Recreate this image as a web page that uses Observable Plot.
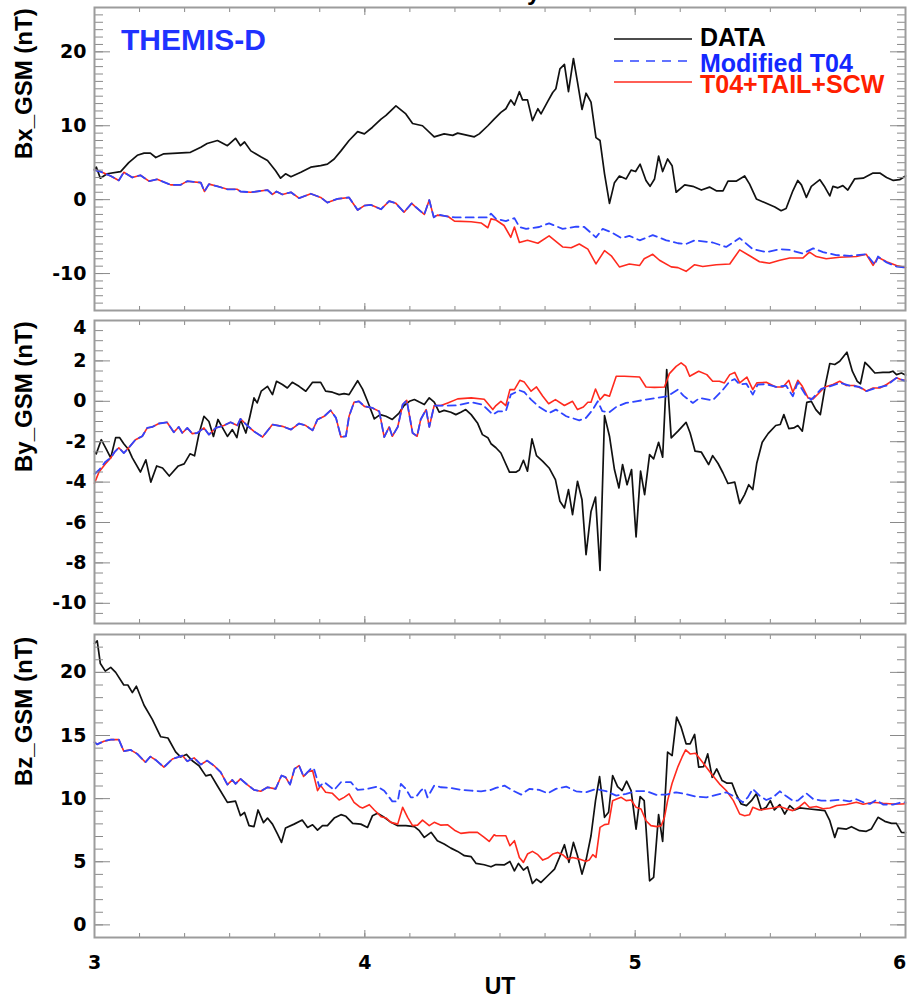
<!DOCTYPE html>
<html><head><meta charset="utf-8">
<script src="https://cdn.jsdelivr.net/npm/d3@7"></script>
<script src="https://cdn.jsdelivr.net/npm/@observablehq/plot@0.6"></script>
<style>
html,body{margin:0;padding:0;background:#fff;}
#wrap{position:relative;width:908px;height:1001px;overflow:hidden;}
#wrap svg{display:block;}
#overlay{position:absolute;left:0;top:0;}
</style></head><body><div id="wrap"></div>
<script>
// ---- data: [minutes after 03:00 UT, nT] ----
const bxData = [[0,4.1],[0.4,4.4],[1.3,2.9],[2.8,3.5],[5.8,3.8],[7.6,5.0],[9.5,6.0],[11,6.3],[12.4,6.3],[13.6,5.7],[15.4,6.2],[18.4,6.3],[21.3,6.4],[23.6,7.1],[25,7.6],[27.3,8.0],[29.5,7.3],[31.3,8.3],[32.4,7.3],[33.3,7.8],[34.7,6.6],[36.9,5.8],[38.4,5.3],[40.2,3.9],[41.3,2.9],[42.4,3.5],[43.6,3.1],[45.8,3.7],[48,4.4],[50.2,4.6],[51.7,4.8],[53.2,5.5],[54.7,6.6],[56.5,8.0],[58.4,9.2],[59.9,8.9],[61.7,9.8],[63.6,10.9],[64.7,11.4],[66.9,12.7],[69.1,11.6],[70.6,10.3],[72.8,10.0],[75.4,8.5],[77.6,8.9],[79.5,8.7],[80.6,9.0],[84.3,8.5],[85.4,8.9],[87.3,10.0],[88.7,10.9],[90.2,11.8],[91.3,12.3],[92.4,13.5],[93.2,12.8],[94.3,14.6],[95,13.5],[96.1,13.5],[97.2,10.7],[98.4,12.3],[99.1,11.6],[100.6,13.3],[101.7,14.5],[102.4,15.0],[103.3,17.7],[104.3,18.3],[105.2,14.6],[106.3,19.1],[107.2,15.9],[108.2,12.2],[109.1,14.4],[110.2,13.2],[111.3,8.4],[112.2,8.0],[113.2,3.5],[114.3,-0.5],[115.4,2.3],[116.5,3.2],[118,2.8],[119.1,4.0],[120.1,3.8],[121.1,4.8],[122.4,2.6],[123.3,1.8],[124.3,2.8],[125.2,5.9],[126.1,3.8],[127.2,5.5],[128.2,4.6],[129.1,1.0],[131,2.0],[132.8,1.8],[134.7,1.3],[136.5,1.7],[138,1.2],[139.5,1.2],[140.6,2.5],[142.4,2.5],[144.3,3.2],[145.4,2.1],[146.9,0.1],[149.1,-0.5],[151,-1.0],[152.4,-1.5],[153.5,-1.2],[155,1.2],[156.1,2.6],[156.9,2.0],[158,0.3],[159.1,1.8],[161,2.7],[162.1,1.7],[163.2,0.5],[163.9,1.8],[165,1.6],[166.1,1.9],[167.2,1.3],[168.7,2.8],[170.6,2.9],[172.8,3.6],[174.3,3.6],[175.8,3.0],[177.3,2.6],[178.7,2.7],[180,3.2]];
const bxT04 = [[0,4.0],[1.3,3.8],[3.6,3.2],[5.4,2.6],[6.5,3.7],[8.4,3.0],[10.2,3.3],[12.1,2.5],[13.9,2.75],[16.9,2.0],[19.1,2.0],[20.6,2.5],[23.6,2.3],[24.4,1.1],[25.4,2.1],[27.3,1.8],[29.5,1.4],[31.7,1.4],[32.4,1.1],[34.7,1.0],[38.4,1.3],[39.5,0.7],[40.4,1.1],[41.7,0.7],[43.6,1.0],[45.4,0.2],[48,0.8],[50.2,0.3],[51.7,-0.4],[53.9,0.1],[56.5,0.3],[58.4,-1.4],[59.9,-0.8],[61.3,-0.7],[63.6,-1.3],[65.4,-0.2],[66.9,-0.5],[68.7,-1.7],[70.4,-0.5],[71.3,-1.0],[73.2,-2.0],[74.3,-0.05],[75.3,-2.4],[76.1,-2.0],[78.4,-2.3],[80,-2.4],[84,-2.4],[87.3,-2.4],[88,-1.9],[89.1,-2.6],[91.3,-2.9],[93.2,-2.5],[94.3,-3.7],[95.8,-3.95],[98.7,-3.7],[100.9,-3.2],[103.9,-3.95],[106.9,-3.65],[108.7,-3.7],[111.3,-5.1],[112.8,-3.95],[114.7,-4.4],[116.9,-5.2],[118.7,-4.9],[121,-5.5],[123.9,-4.8],[126.9,-5.5],[129.5,-5.9],[131.3,-6.0],[133.2,-5.5],[137.2,-5.8],[140.2,-6.4],[143.2,-5.2],[146.1,-6.7],[149.1,-7.1],[152.1,-6.7],[154.3,-6.8],[157.2,-7.3],[159.5,-6.6],[161.7,-7.1],[164.6,-7.5],[167.6,-7.6],[171.3,-7.4],[173.2,-8.8],[173.9,-7.7],[175.8,-8.5],[178,-9.05],[180,-9.2]];
const bxSCW = [[0,4.0],[1.3,3.8],[3.6,3.2],[5.4,2.6],[6.5,3.7],[8.4,3.0],[10.2,3.3],[12.1,2.5],[13.9,2.75],[16.9,2.0],[19.1,2.0],[20.6,2.5],[23.6,2.3],[24.4,1.1],[25.4,2.1],[27.3,1.8],[29.5,1.4],[31.7,1.4],[32.4,1.1],[34.7,1.0],[38.4,1.3],[39.5,0.7],[40.4,1.1],[41.7,0.7],[43.6,1.0],[45.4,0.2],[48,0.8],[50.2,0.3],[51.7,-0.4],[53.9,0.1],[56.5,0.3],[58.4,-1.4],[59.9,-0.8],[61.3,-0.7],[63.6,-1.3],[65.4,-0.2],[66.9,-0.5],[68.7,-1.7],[70.4,-0.5],[71.3,-1.0],[73.2,-2.0],[74.3,-0.05],[75.3,-2.4],[76.1,-2.1],[78.4,-2.25],[79.9,-2.9],[83.6,-3.0],[85.8,-3.15],[87.3,-3.8],[88,-2.6],[89.1,-2.75],[90.9,-3.5],[92.4,-5.1],[93.2,-3.7],[94.3,-5.8],[96.1,-5.5],[98.4,-5.9],[100.9,-4.9],[103.9,-6.4],[105.8,-6.5],[107.6,-6.0],[109.5,-6.7],[111.3,-8.7],[113.2,-6.9],[114.7,-7.6],[116.5,-9.1],[118.7,-8.7],[121,-8.9],[122,-8.0],[123.9,-7.4],[125.4,-8.2],[128,-9.1],[129.5,-9.2],[131.3,-9.7],[133.2,-8.8],[135,-9.05],[138,-8.8],[141,-8.7],[143.2,-6.8],[145.4,-7.6],[147.6,-8.4],[149.8,-8.6],[152.1,-8.2],[154.3,-7.9],[157.2,-7.9],[158.7,-7.1],[160.2,-7.7],[162.4,-8.0],[165.4,-7.8],[169.1,-7.7],[171.3,-7.4],[172.8,-8.9],[173.9,-7.8],[175.8,-8.4],[178,-8.9],[180,-9.2]];

const byData = [[0,-2.5],[0.4,-2.6],[1.5,-1.9],[2.7,-2.4],[3.6,-2.8],[4.7,-1.8],[5.6,-1.8],[6.5,-2.1],[7.6,-2.4],[8.4,-2.8],[10.2,-3.5],[11.4,-2.9],[12.5,-4.0],[13.8,-3.2],[15.1,-3.3],[16.6,-3.7],[18.6,-3.2],[19.9,-3.1],[21.2,-2.6],[22.2,-2.7],[23.2,-1.6],[24.3,-0.74],[25.4,-1.0],[26.4,-1.74],[27.4,-0.9],[28.4,-1.3],[29.5,-1.74],[30.6,-1.4],[31.6,-1.8],[32.4,-0.9],[33.6,-1.57],[34.5,-0.74],[35.4,0.17],[36.1,-0.08],[37,0.5],[38.4,0.74],[39.5,0.33],[40.4,0.99],[41.7,0.83],[42.8,0.66],[43.9,0.94],[45.4,0.74],[46.9,0.5],[48.4,0.94],[50.2,0.94],[51.3,0.5],[52.8,0.45],[54.3,0.33],[55.4,0.38],[56.5,0.33],[58.4,1.02],[59.5,0.6],[60.6,0.0],[62.1,-0.87],[63.4,-0.66],[64.7,-0.74],[66.1,-0.9],[67.6,-0.58],[68.7,-0.21],[69.9,0.0],[71,0.09],[72.1,-0.04],[73.2,-0.16],[74.3,0.17],[75.4,-0.04],[76.5,-0.54],[77.6,-0.45],[79.1,-0.54],[80.2,-0.66],[81.3,-0.54],[82.4,-0.41],[83.6,-0.66],[85,-1.07],[86.1,-1.65],[87.3,-1.8],[88,-2.1],[89.1,-2.3],[90.2,-2.56],[92.1,-3.51],[93.5,-3.51],[94.3,-3.4],[95.2,-2.92],[96.1,-3.46],[97.1,-1.86],[98.1,-2.69],[99.5,-2.97],[100.9,-3.3],[102.3,-3.88],[103.3,-4.95],[104.3,-5.28],[105.2,-4.37],[106.1,-5.61],[107.2,-3.96],[108.2,-4.87],[109.1,-7.59],[110.2,-5.45],[111.2,-4.74],[112.2,-8.37],[113.2,-0.71],[114.3,-1.73],[115.4,-3.38],[116.4,-4.29],[117.2,-3.13],[118.2,-4.13],[119.2,-3.38],[120.2,-6.71],[121.2,-3.46],[122.1,-4.62],[123.2,-2.64],[124.1,-2.85],[125.2,-2.03],[126.1,-2.77],[127,1.57],[128,-1.81],[129.5,-1.48],[131.3,-1.04],[132.2,-1.57],[133.3,-2.47],[134.7,-2.52],[136.3,-3.13],[137.2,-2.69],[138.4,-3.08],[139.5,-3.55],[140.6,-4.07],[142.1,-4.0],[143.2,-5.06],[144.3,-4.62],[145.2,-4.13],[146.1,-4.37],[147,-3.05],[148.2,-2.03],[149.5,-1.6],[151.2,-1.2],[152.2,-1.15],[153,-0.66],[154.1,-1.35],[155.2,-1.32],[156.1,-1.2],[157.1,-1.48],[158.1,-0.05],[159.1,0.0],[160.1,-0.41],[161.1,-0.66],[162.3,0.91],[163.2,1.87],[164.3,1.82],[165.4,1.98],[167,2.43],[168.2,1.49],[169.3,0.99],[170,0.87],[171,1.93],[171.9,1.73],[173.2,1.4],[175,1.43],[176.4,1.43],[177.2,1.49],[178,1.32],[179.1,1.4],[180,1.3]];
const byT04 = [[0,-3.6],[1,-3.4],[2.4,-3.0],[3.6,-2.8],[4.5,-2.5],[5.4,-2.3],[6.5,-2.56],[7.6,-2.3],[9.1,-1.9],[10.6,-1.73],[11.7,-1.32],[12.8,-1.27],[14.3,-1.1],[16.1,-1.04],[17.6,-1.53],[18.7,-1.27],[19.5,-1.57],[20.6,-1.32],[21.7,-1.6],[22.8,-1.57],[24.3,-1.32],[25.4,-1.65],[26.9,-1.32],[28.7,-1.2],[30.2,-1.04],[31.7,-1.2],[32.4,-0.87],[33.9,-1.2],[35.4,-1.49],[37.3,-1.77],[39.5,-1.15],[41.7,-1.24],[43.6,-1.4],[45.4,-1.1],[46.9,-1.2],[48.4,-1.44],[49.5,-0.9],[51,-0.74],[52.4,-0.45],[53.6,-0.82],[54.7,-1.77],[55.8,-1.73],[56.5,-0.74],[57.6,-0.05],[58.7,0.0],[59.9,-0.25],[61.7,-0.33],[63.2,-0.5],[64.3,-1.77],[65.4,-1.27],[66.1,-1.73],[67.3,-1.27],[68.4,-0.16],[69.3,0.05],[70.6,-1.57],[71.6,-1.73],[72.4,-0.9],[73.6,-0.41],[74.3,-1.27],[75.4,-0.21],[76.9,-0.21],[78.4,-0.21],[80.6,-0.2],[83.6,-0.05],[86.1,-0.16],[88.4,-0.66],[89.5,-0.5],[91.3,-0.49],[92.4,0.33],[94.3,0.54],[95.4,0.45],[96.9,0.08],[98.7,-0.28],[100.9,-0.58],[102.4,-0.41],[104.7,-0.74],[107.6,-0.94],[109.1,-0.82],[110.6,-0.41],[111.7,0.0],[112.7,-0.49],[114.3,-0.54],[115.8,-0.28],[118,-0.08],[120.2,0.0],[122.4,0.08],[124.7,0.16],[127.2,0.25],[129.5,0.58],[130.7,0.28],[132.8,-0.08],[134.3,0.16],[137.2,0.05],[139.5,0.58],[141,0.99],[142.1,1.1],[143.2,0.83],[144.7,0.87],[146.1,0.33],[147.2,0.83],[149.1,0.85],[151.3,0.71],[153.5,0.78],[155,0.25],[156.1,0.94],[158,0.25],[159.1,0.08],[161.3,0.61],[163.2,0.74],[165.4,0.91],[167.6,0.78],[169.8,0.71],[171.3,0.5],[173.5,0.66],[175.8,0.78],[178,1.16],[179.5,1.04],[180,1.0]];
const bySCW = [[0,-4.05],[1,-3.5],[2.4,-3.1],[3.6,-2.8],[4.5,-2.5],[5.4,-2.3],[6.5,-2.56],[7.6,-2.3],[9.1,-1.9],[10.6,-1.73],[11.7,-1.32],[12.8,-1.27],[14.3,-1.1],[16.1,-1.04],[17.6,-1.53],[18.7,-1.27],[19.5,-1.57],[20.6,-1.32],[21.7,-1.6],[22.8,-1.57],[24.3,-1.32],[25.4,-1.65],[26.9,-1.32],[28.7,-1.2],[30.2,-1.04],[31.7,-1.2],[32.4,-0.87],[33.9,-1.2],[35.4,-1.49],[37.3,-1.77],[39.5,-1.15],[41.7,-1.24],[43.6,-1.4],[45.4,-1.1],[46.9,-1.2],[48.4,-1.44],[49.5,-0.9],[51,-0.74],[52.4,-0.45],[53.6,-0.82],[54.7,-1.77],[55.8,-1.73],[56.5,-0.74],[57.6,-0.05],[58.7,0.0],[59.9,-0.25],[61.7,-0.33],[63.2,-0.5],[64.3,-1.77],[65.4,-1.27],[66.1,-1.73],[67.3,-1.27],[68.4,-0.16],[69.3,0.05],[70.6,-1.57],[71.6,-1.73],[72.4,-0.9],[73.6,-0.41],[74.3,-1.27],[75.4,-0.21],[76.9,-0.21],[78.4,-0.08],[80.6,0.12],[83.6,0.17],[86.5,0.1],[88.4,-0.41],[89.1,-0.21],[90.2,0.0],[91.3,-0.21],[92.2,0.58],[93.2,0.58],[94.4,1.04],[95.4,0.95],[96.9,0.5],[98.1,0.71],[99.5,0.25],[100.8,-0.12],[102.3,0.08],[104.3,-0.21],[106.1,0.0],[107.2,-0.41],[108.5,-0.28],[109.5,-0.05],[110.2,-0.05],[111.2,0.61],[112.2,0.08],[113.2,0.33],[114.3,0.25],[115.8,1.24],[117.6,1.24],[121,1.2],[122.4,0.71],[124.3,0.69],[126.5,0.71],[127.6,1.37],[129.1,1.73],[130.2,1.9],[131.2,1.73],[132.1,1.24],[134.1,1.49],[135.9,1.32],[137.2,0.99],[138.7,0.99],[139.8,0.91],[141,1.32],[142.1,1.43],[143.2,0.91],[144.8,1.2],[146.1,0.58],[147,0.91],[149.1,0.94],[151.2,0.71],[152.8,0.71],[154.1,1.04],[155,0.45],[156.1,1.04],[157.1,0.74],[158.4,0.16],[159.5,0.12],[160.8,0.41],[162.1,0.71],[163.9,0.83],[165.4,0.99],[166.9,0.78],[168.7,0.78],[170.6,0.61],[171.3,0.5],[172.8,0.66],[174.3,0.66],[175.8,0.83],[178,1.16],[179.1,1.07],[180,1.05]];

const bzData = [[0,22.3],[0.6,22.5],[1.3,20.7],[2.4,20.1],[3.6,20.4],[4.7,20.0],[6.5,19.0],[7.4,19.0],[8.4,18.4],[9.3,18.9],[11,17.4],[12.8,16.3],[14.7,14.9],[16.3,14.8],[18,13.7],[19.1,13.3],[20.4,13.5],[21.7,13.0],[23.2,12.6],[24.7,11.8],[25.8,11.9],[27.3,11.0],[29.5,9.7],[31.3,9.8],[32.4,8.65],[33.3,8.9],[34.3,7.86],[35.4,7.78],[36.3,9.1],[37.5,8.1],[38.4,8.46],[39.5,7.98],[40.6,7.2],[41.5,6.53],[42.4,7.67],[44.3,7.98],[46.1,8.3],[47.3,7.72],[48.4,7.93],[49.5,7.5],[50.6,7.86],[51.7,7.86],[53.2,8.46],[54.7,8.73],[55.8,8.6],[57.3,8.04],[59.1,7.98],[60.6,7.72],[61.7,8.65],[62.8,8.84],[64.3,8.52],[65.8,8.12],[67.3,7.86],[69.1,7.86],[71,7.78],[72.1,7.46],[73.2,6.93],[74.7,7.33],[76.1,6.67],[77.6,6.4],[79.1,6.08],[80.6,5.82],[82.1,5.48],[83.6,5.4],[84.7,4.87],[86.5,4.76],[88,4.6],[89.1,4.78],[91,4.76],[92.2,5.02],[93.2,4.28],[94.1,4.87],[95.2,4.34],[96.1,4.6],[97.2,3.28],[98.1,3.62],[99.1,3.36],[100.6,3.89],[102.1,4.42],[103.2,5.35],[104.3,6.35],[105.3,4.95],[106.3,6.53],[107.2,5.47],[108.2,4.02],[109.1,5.13],[110.2,7.06],[111.2,9.84],[112.1,11.75],[113.2,8.52],[114.1,8.92],[115,11.83],[116.1,10.95],[117.1,10.64],[118.1,11.38],[119.1,10.64],[120.2,7.59],[121.1,10.16],[122,9.84],[123.2,3.49],[124.1,3.76],[125.2,8.73],[126.1,6.61],[127.2,13.68],[128.2,13.41],[129.2,16.45],[130.2,15.66],[131.3,14.34],[132.2,14.34],[133.2,15.08],[134.1,12.49],[135.2,12.54],[136.1,13.54],[137.1,11.69],[138.1,12.35],[139.3,11.43],[140.4,11.22],[141.5,11.22],[142.4,10.38],[143.5,9.58],[144.7,9.45],[145.8,9.84],[146.9,10.38],[148,9.11],[149.1,9.32],[150,9.84],[150.9,9.11],[152.1,9.53],[153.2,8.78],[154.3,9.45],[155.4,9.11],[156.5,9.26],[158.7,9.18],[160.6,9.11],[162.1,9.05],[163.2,8.25],[164.3,6.93],[165,7.67],[166.9,7.59],[168,7.78],[169.8,7.46],[171.3,7.41],[172.4,7.59],[173.9,8.52],[175.4,8.2],[176.9,8.04],[178,8.04],[179.1,7.33],[180,7.3]];
const bzT04 = [[0,14.47],[0.6,14.3],[2.1,14.55],[3.6,14.67],[5.4,14.67],[6.5,13.76],[8,13.86],[9.5,13.54],[11.3,12.88],[12.4,13.33],[13.6,13.06],[15.4,12.49],[17.3,13.14],[18.5,13.28],[19.5,13.41],[20.6,12.96],[22.1,13.23],[23.6,12.7],[25,13.01],[26.5,12.62],[28,12.1],[29.5,11.11],[30.6,11.48],[31.3,11.17],[32.4,11.56],[33.9,11.11],[35.4,10.69],[36.9,10.58],[38.4,10.9],[40.2,10.77],[41.5,11.83],[42.4,11.7],[43.4,11.11],[44.4,12.36],[45.4,12.62],[46.4,11.75],[47.3,12.1],[48.2,12.44],[48.7,12.36],[49.9,10.96],[51,11.3],[53.2,10.69],[54.7,11.3],[56.9,11.3],[58.4,10.69],[60.6,10.77],[62.8,10.96],[64.3,10.63],[66.1,9.78],[67.3,9.78],[68,11.17],[69.1,10.77],[70.2,10.1],[71.3,10.1],[72.4,10.63],[73.2,10.85],[73.9,10.1],[75.4,11.03],[76.9,10.9],[79.1,10.85],[81.3,10.69],[83.6,10.63],[85.8,10.58],[88,10.69],[89.1,10.85],[91,11.03],[92.8,10.64],[94.7,10.32],[96.5,10.77],[98.7,10.69],[100.6,10.42],[102.4,10.77],[104.7,10.95],[106.9,10.58],[109.1,10.5],[111.3,10.77],[113.5,10.6],[115.8,10.24],[118,10.38],[120.2,10.6],[122.4,10.6],[124.7,10.3],[126.9,10.32],[129.1,10.5],[131.3,10.35],[133.5,10.16],[135.8,10.1],[138,10.3],[140.2,10.5],[142.4,10.1],[143.9,9.71],[145,10.1],[146.1,10.77],[147.6,10.24],[149.1,9.89],[150.6,10.1],[152.1,10.58],[153.5,10.2],[155,9.84],[156.1,9.84],[158,10.42],[159.5,9.97],[161.3,9.84],[163.2,9.84],[165.4,9.9],[167.6,9.79],[169.1,9.95],[170.6,9.71],[172.1,9.58],[173.5,9.89],[175,9.53],[177.2,9.53],[179.1,9.71],[180,9.7]];
const bzSCW = [[0,14.47],[0.6,14.3],[2.1,14.55],[3.6,14.67],[5.4,14.67],[6.5,13.76],[8,13.86],[9.5,13.54],[11.3,12.88],[12.4,13.33],[13.6,13.06],[15.4,12.49],[17.3,13.14],[18.5,13.28],[19.5,13.41],[20.6,12.96],[22.1,13.23],[23.6,12.7],[25,13.01],[26.5,12.62],[28,12.1],[29.5,11.11],[30.6,11.48],[31.3,11.17],[32.4,11.56],[33.9,11.11],[35.4,10.69],[36.9,10.58],[38.4,10.9],[40.2,10.77],[41.5,11.83],[42.4,11.7],[43.4,11.11],[44.4,12.36],[45.4,12.62],[46.4,11.75],[47.3,12.1],[48.4,12.23],[49.5,10.63],[50.2,11.03],[51.3,10.5],[52.8,10.42],[54.3,9.89],[55.4,10.1],[56.5,10.37],[57.6,9.71],[58.8,9.36],[59.5,9.26],[61,9.52],[62.1,9.1],[63.6,8.57],[64.7,8.47],[65.8,8.12],[67.3,7.98],[68.4,9.31],[69.5,8.52],[70.6,7.86],[71.7,7.9],[72.8,8.3],[74.3,7.86],[75.4,8.12],[76.9,7.9],[78.4,7.93],[79.9,7.5],[81.3,7.25],[83.2,7.33],[85,7.33],[86.5,6.93],[87.6,6.61],[88.7,7.14],[89.1,7.06],[91.3,7.06],[92.2,6.27],[93.2,6.67],[94.3,5.34],[95.2,4.95],[96.1,5.61],[97.2,5.82],[98.4,5.56],[99.5,5.13],[100.6,5.29],[101.7,5.61],[102.8,5.74],[103.9,5.56],[105,5.21],[106.1,5.34],[107.6,5.21],[109,5.03],[109.8,5.13],[110.6,5.56],[111.3,5.34],[112.2,7.72],[113.2,7.94],[114.1,7.99],[115,9.84],[115.9,9.97],[116.9,10.1],[118,9.84],[119.1,9.89],[120.2,9.31],[121.3,9.18],[122.4,8.25],[123.5,7.86],[124.8,7.78],[125.8,7.86],[126.5,8.52],[127.2,9.84],[128.2,11.22],[129.5,12.54],[130.4,13.28],[131.2,13.86],[132.2,13.54],[133.4,13.6],[134.4,13.14],[135.8,12.49],[137.2,11.83],[138.7,11.17],[140.2,10.64],[141.8,9.84],[143.2,8.78],[144.3,8.65],[145.4,8.73],[146.1,9.31],[147.6,9.1],[149.1,9.18],[150.6,9.26],[152.1,9.37],[153.5,9.2],[155,9.05],[156.5,9.37],[157.6,9.71],[158.7,9.3],[160.2,9.37],[161.7,9.2],[163.2,9.26],[164.7,9.45],[166.9,9.53],[169.1,9.71],[170.6,9.55],[172.8,9.71],[175,9.63],[177.2,9.58],[179.1,9.58],[180,9.6]];

// ---- axes / labels ----
const xMajor = [3, 4, 5, 6];
const xMinor = d3.range(3, 6.001, 1/6);
const bxMajor = [-10, 0, 10, 20];
const byMajor = [-10, -8, -6, -4, -2, 0, 2, 4];
const bzMajor = [0, 5, 10, 15, 20];
const labels = ["Bx_GSM (nT)", "By_GSM (nT)", "Bz_GSM (nT)"];
const seriesNames = ["DATA", "Modified T04", "T04+TAIL+SCW"];
const satellite = "THEMIS-D";
const xTitle = "UT";

const FRAME = "#9c9c9c", TICK = "#8a8a8a";
const C_DATA = "#111111", C_T04 = "#2f45ff", C_SCW = "#ff2a1e";
const LAB_FONT = "'Liberation Sans', Arial, Helvetica, sans-serif";
const TICK_FONT = "'DejaVu Sans', sans-serif";
const fmt = d => String(d);
const toRow = ([m, v]) => ({t: 3 + m / 60, v});

function panel({data, t04, scw, yDomain, major, minorStep, label, height, marginTop, marginBottom, bottomLabels, topLabelShift}) {
  const minor = d3.range(Math.ceil(yDomain[0] / minorStep) * minorStep, yDomain[1] + 1e-9, minorStep);
  const plainMajor = major.filter(d => !(topLabelShift && d === yDomain[1]));
  const marks = [
    Plot.line(data.map(toRow), {x: "t", y: "v", stroke: C_DATA, strokeWidth: 1.7}),
    Plot.line(scw.map(toRow), {x: "t", y: "v", stroke: C_SCW, strokeWidth: 1.6}),
    Plot.line(t04.map(toRow), {x: "t", y: "v", stroke: C_T04, strokeWidth: 1.8, strokeDasharray: "8,5"}),
    Plot.axisY({anchor: "left", ticks: minor, tickSize: -9, tickFormat: () => "", stroke: TICK, label: null}),
    Plot.axisY({anchor: "left", ticks: major, tickSize: -16, tickFormat: () => "", stroke: TICK, label: null}),
    Plot.axisY({anchor: "right", ticks: minor, tickSize: -9, tickFormat: () => "", stroke: TICK, label: null}),
    Plot.axisY({anchor: "right", ticks: major, tickSize: -16, tickFormat: () => "", stroke: TICK, label: null}),
    Plot.axisY({anchor: "left", ticks: plainMajor, tickSize: 0, tickPadding: 8, tickFormat: fmt, label: null, fill: "black"}),
    Plot.axisX({anchor: "top", ticks: xMinor, tickSize: -4, tickFormat: () => "", stroke: TICK, label: null}),
    Plot.axisX({anchor: "top", ticks: xMajor, tickSize: -7, tickFormat: () => "", stroke: TICK, label: null}),
    Plot.axisX({anchor: "bottom", ticks: xMinor, tickSize: -4, tickFormat: () => "", stroke: TICK, label: null}),
    Plot.axisX({anchor: "bottom", ticks: xMajor, tickSize: -7, tickFormat: () => "", stroke: TICK, label: null}),
    Plot.frame({stroke: FRAME, strokeWidth: 2}),
    Plot.text([label], {text: d => d, frameAnchor: "left", dx: -70, rotate: -90, fontSize: 24, fontFamily: LAB_FONT, fontWeight: "bold", fill: "black"})
  ];
  if (topLabelShift) {
    marks.push(Plot.axisY({anchor: "left", ticks: [yDomain[1]], tickSize: 0, tickPadding: 8, dy: topLabelShift, tickFormat: fmt, label: null, fill: "black"}));
  }
  if (bottomLabels) {
    marks.push(Plot.axisX({anchor: "bottom", ticks: xMajor.slice(0, -1), tickSize: 0, tickPadding: 18, tickFormat: fmt, label: null, fill: "black"}));
    marks.push(Plot.axisX({anchor: "bottom", ticks: xMajor.slice(-1), tickSize: 0, tickPadding: 18, dx: -6, tickFormat: fmt, label: null, fill: "black"}));
    marks.push(Plot.text([xTitle], {text: d => d, frameAnchor: "bottom", dy: 40, lineAnchor: "top", fontSize: 23, fontFamily: LAB_FONT, fontWeight: "bold", fill: "black"}));
  }
  return Plot.plot({
    width: 908, height, marginLeft: 94, marginRight: 3, marginTop, marginBottom,
    x: {domain: [3, 6], axis: null},
    y: {domain: yDomain, axis: null},
    style: {fontFamily: TICK_FONT, fontWeight: "bold", fontSize: "19px", background: "white", color: "black", overflow: "visible"},
    marks
  });
}

const wrap = document.getElementById("wrap");
wrap.appendChild(panel({data: bxData, t04: bxT04, scw: bxSCW, yDomain: [-15, 26], major: bxMajor, minorStep: 1, label: labels[0], height: 315, marginTop: 7, marginBottom: 5}));
wrap.appendChild(panel({data: byData, t04: byT04, scw: bySCW, yDomain: [-11, 4], major: byMajor, minorStep: 0.5, label: labels[1], height: 312, marginTop: 5, marginBottom: 4, topLabelShift: 7}));
wrap.appendChild(panel({data: bzData, t04: bzT04, scw: bzSCW, yDomain: [-1, 23], major: bzMajor, minorStep: 1, label: labels[2], height: 374, marginTop: 7, marginBottom: 64, bottomLabels: true}));

// ---- overlay: title remnant, satellite name, legend ----
const ov = d3.select(wrap).append("svg").attr("id", "overlay").attr("width", 908).attr("height", 120)
  .style("font-family", LAB_FONT).style("font-weight", "bold");
ov.append("text").attr("x", 527).attr("y", -0.5).attr("font-size", 24).attr("fill", "black").text("y");
ov.append("text").attr("x", 121).attr("y", 50).attr("font-size", 30).attr("fill", "#1f32ff").text(satellite);
const legend = [
  {name: seriesNames[0], color: C_DATA, text: "#000000", dash: null, ly: 39, ty: 45.5},
  {name: seriesNames[1], color: C_T04, text: "#1428ff", dash: "9,7", ly: 61, ty: 71.5},
  {name: seriesNames[2], color: C_SCW, text: "#ff2000", dash: null, ly: 82, ty: 93}
];
for (const l of legend) {
  const ln = ov.append("line").attr("x1", 614).attr("x2", 692).attr("y1", l.ly).attr("y2", l.ly)
    .attr("stroke", l.color).attr("stroke-width", 1.7);
  if (l.dash) ln.attr("stroke-dasharray", l.dash);
  ov.append("text").attr("x", 700).attr("y", l.ty).attr("font-size", 25).attr("fill", l.text).text(l.name);
}
</script></body></html>
